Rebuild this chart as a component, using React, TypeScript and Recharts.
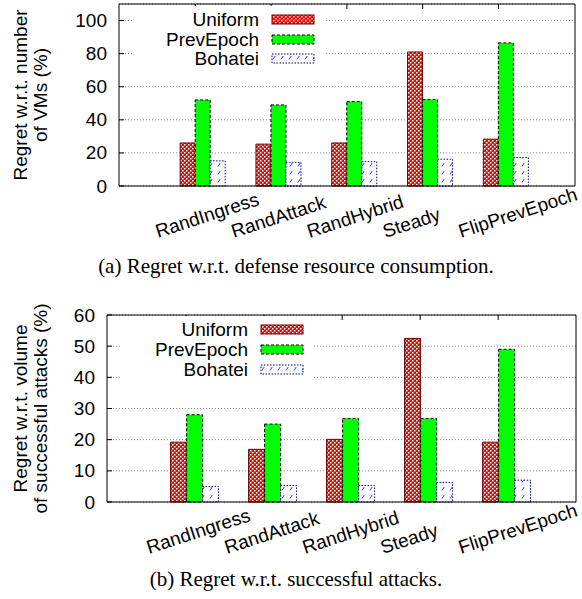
import React from 'react';
import { BarChart, Bar, XAxis, YAxis, CartesianGrid, Legend } from 'recharts';

const categories = ['RandIngress', 'RandAttack', 'RandHybrid', 'Steady', 'FlipPrevEpoch'];
const seriesNames = ['Uniform', 'PrevEpoch', 'Bohatei'];

const vmUniform = [26, 25.3, 26, 81, 28.3];
const vmPrevEpoch = [52, 49, 51, 52.3, 86.5];
const vmBohatei = [15.2, 14.3, 14.7, 16.2, 17.2];

const atkUniform = [19.2, 16.9, 20.1, 52.5, 19.2];
const atkPrevEpoch = [28, 25, 26.8, 26.8, 49];
const atkBohatei = [5, 5.3, 5.3, 6.3, 7];

const vmTicks = [0, 20, 40, 60, 80, 100];
const atkTicks = [0, 10, 20, 30, 40, 50, 60];

const vmTitle = ['Regret w.r.t. number', 'of VMs (%)'];
const atkTitle = ['Regret w.r.t. volume', 'of successful attacks (%)'];

const captionA = '(a) Regret w.r.t. defense resource consumption.';
const captionB = '(b) Regret w.r.t. successful attacks.';

const FONT = '"Liberation Sans", Arial, Helvetica, sans-serif';
const SERIF = '"Liberation Serif", "Times New Roman", Times, serif';
const FS = 19;

const buildData = (u: number[], p: number[], b: number[]) =>
  categories.map((name, i) => ({ name, u: u[i], p: p[i], b: b[i] }));

const vmData = buildData(vmUniform, vmPrevEpoch, vmBohatei);
const atkData = buildData(atkUniform, atkPrevEpoch, atkBohatei);

const seriesKeys = ['u', 'p', 'b'];

const styleFor = (id: string, k: string) => {
  if (k === 'u') return { fill: `url(#${id}-u)`, stroke: '#700000', strokeDasharray: undefined as string | undefined };
  if (k === 'p') return { fill: '#00ff00', stroke: '#000000', strokeDasharray: '3 2' };
  return { fill: `url(#${id}-b)`, stroke: '#000080', strokeDasharray: '1.5 1.5' };
};

const XTick = (props: any) => {
  const { x, y, payload } = props;
  const sx = x - 45;
  const sy = y + 52;
  return (
    <text x={sx} y={sy} transform={`rotate(-18 ${sx} ${sy})`} textAnchor="start" fontSize={FS} fontFamily={FONT} fill="#000">
      {payload.value}
    </text>
  );
};

const TopTick = (props: any) => {
  const { x, y, half } = props;
  return <line x1={x - half} x2={x - half} y1={y} y2={y + 5} stroke="#000" strokeWidth={1} />;
};

const LeftTick = (props: any) => {
  const { x, y, payload } = props;
  return (
    <g>
      <line x1={x} x2={x + 5} y1={y} y2={y} stroke="#000" strokeWidth={1} />
      <text x={x - 12} y={y} textAnchor="end" dominantBaseline="central" fontSize={FS} fontFamily={FONT} fill="#000">
        {payload.value}
      </text>
    </g>
  );
};

const RightTick = (props: any) => {
  const { x, y } = props;
  return <line x1={x - 5} x2={x} y1={y} y2={y} stroke="#000" strokeWidth={1} />;
};

const makeTitle = (lines: string[], xs: number[]) => (props: any) => {
  const vb = props.viewBox || {};
  const cy = (vb.y ?? 0) + (vb.height ?? 0) / 2;
  return (
    <g>
      {lines.map((t, i) => (
        <text
          key={i}
          x={xs[i]}
          y={cy}
          transform={`rotate(-90 ${xs[i]} ${cy})`}
          textAnchor="middle"
          dominantBaseline="central"
          fontSize={FS}
          fontFamily={FONT}
          fill="#000"
        >
          {t}
        </text>
      ))}
    </g>
  );
};

type LegendBox = {
  left: number;
  top: number;
  width: number;
  height: number;
  textRight: number;
  sampleLeft: number;
  rows: number[];
};

const makeLegend = (id: string, box: LegendBox) => () => (
  <div style={{ position: 'relative', width: box.width, height: box.height, background: '#fff' }}>
    {seriesNames.map((n, i) => {
      const st = styleFor(id, seriesKeys[i]);
      return (
        <React.Fragment key={n}>
          <div
            style={{
              position: 'absolute',
              left: 0,
              width: box.textRight,
              top: box.rows[i] - 11,
              height: 22,
              lineHeight: '22px',
              textAlign: 'right',
              fontFamily: FONT,
              fontSize: FS,
              color: '#000',
              whiteSpace: 'nowrap',
            }}
          >
            {n}
          </div>
          <svg
            width={44}
            height={12}
            style={{ position: 'absolute', left: box.sampleLeft - 1, top: box.rows[i] - 6 }}
          >
            <rect x={1} y={1} width={42} height={9} fill={st.fill} stroke={st.stroke} strokeDasharray={st.strokeDasharray} strokeWidth={1} />
          </svg>
        </React.Fragment>
      );
    })}
  </div>
);

type PanelProps = {
  id: string;
  top: number;
  height: number;
  data: any[];
  ticks: number[];
  yMax: number;
  title: string[];
  titleX: number[];
  leftW: number;
  rightW: number;
  topH: number;
  xAxisH: number;
  padL: number;
  padR: number;
  tickHalf: number;
  legend: LegendBox;
};

const Panel = (p: PanelProps) => (
  <div style={{ position: 'absolute', left: 0, top: p.top, width: 582, height: p.height }}>
    <BarChart
      width={582}
      height={p.height}
      data={p.data}
      margin={{ top: 0, right: 0, bottom: 0, left: 0 }}
      barCategoryGap="20%"
      barGap={0}
    >
      <defs>
        <pattern id={`${p.id}-u`} width="4" height="4" patternUnits="userSpaceOnUse">
          <rect width="4" height="4" fill="#ff0000" />
          <rect x="0" y="0" width="1.5" height="1.5" fill="#ffffff" />
          <rect x="2" y="2" width="1.5" height="1.5" fill="#ffffff" />
        </pattern>
        <pattern id={`${p.id}-b`} width="8" height="8" patternUnits="userSpaceOnUse">
          <rect width="8" height="8" fill="#ffffff" />
          <line x1="2" y1="6.5" x2="4.2" y2="3" stroke="#2020ff" strokeWidth="0.9" />
        </pattern>
      </defs>
      <CartesianGrid vertical={false} stroke="#8a8a8a" strokeDasharray="1 2" />
      <XAxis
        dataKey="name"
        height={p.xAxisH}
        padding={{ left: p.padL, right: p.padR }}
        tickSize={0}
        tickMargin={0}
        tickLine={false}
        interval={0}
        axisLine={{ stroke: '#000', strokeWidth: 1 }}
        tick={<XTick />}
      />
      <XAxis
        xAxisId="t"
        orientation="top"
        dataKey="name"
        height={p.topH}
        padding={{ left: p.padL, right: p.padR }}
        tickSize={0}
        tickMargin={0}
        tickLine={false}
        interval={0}
        axisLine={{ stroke: '#000', strokeWidth: 1 }}
        tick={<TopTick half={p.tickHalf} />}
      />
      <YAxis
        width={p.leftW}
        type="number"
        domain={[0, p.yMax]}
        ticks={p.ticks}
        interval={0}
        tickSize={0}
        tickMargin={0}
        tickLine={false}
        axisLine={{ stroke: '#000', strokeWidth: 1 }}
        tick={<LeftTick />}
        label={{ content: makeTitle(p.title, p.titleX) }}
      />
      <YAxis
        yAxisId="r"
        orientation="right"
        width={p.rightW}
        type="number"
        domain={[0, p.yMax]}
        ticks={p.ticks}
        interval={0}
        tickSize={0}
        tickMargin={0}
        tickLine={false}
        axisLine={{ stroke: '#000', strokeWidth: 1 }}
        tick={<RightTick />}
      />
      <Legend
        layout="horizontal"
        verticalAlign="middle"
        align="center"
        content={makeLegend(p.id, p.legend)}
        wrapperStyle={{
          position: 'absolute',
          left: p.legend.left,
          top: p.legend.top,
          width: p.legend.width,
          height: p.legend.height,
          margin: 0,
          padding: 0,
        }}
      />
      {seriesKeys.map((k, i) => {
        const st = styleFor(p.id, k);
        return (
          <Bar
            key={k}
            dataKey={k}
            name={seriesNames[i]}
            fill={st.fill}
            stroke={st.stroke}
            strokeDasharray={st.strokeDasharray}
            strokeWidth={1}
            isAnimationActive={false}
          />
        );
      })}
    </BarChart>
  </div>
);

const Caption = ({ text, baseline }: { text: string; baseline: number }) => (
  <div
    style={{
      position: 'absolute',
      left: 0,
      width: 592,
      top: baseline - 17.6,
      height: 21,
      lineHeight: '21px',
      textAlign: 'center',
      fontFamily: SERIF,
      fontSize: 21,
      color: '#000',
      whiteSpace: 'nowrap',
    }}
  >
    {text}
  </div>
);

export default function App() {
  return (
    <div style={{ position: 'absolute', left: 0, top: 0, width: 582, height: 599, background: '#fff', overflow: 'hidden' }}>
      <Panel
        id="A"
        top={0}
        height={290}
        data={vmData}
        ticks={vmTicks}
        yMax={110}
        title={vmTitle}
        titleX={[20, 40.5]}
        leftW={119}
        rightW={7}
        topH={4}
        xAxisH={104}
        padL={46}
        padR={31}
        tickHalf={7.6}
        legend={{ left: 132, top: 6, width: 193, height: 62, textRight: 127, sampleLeft: 140, rows: [14, 33.5, 53] }}
      />
      <Panel
        id="B"
        top={300}
        height={299}
        data={atkData}
        ticks={atkTicks}
        yMax={60}
        title={atkTitle}
        titleX={[20, 40.5]}
        leftW={107}
        rightW={6}
        topH={15}
        xAxisH={97}
        padL={48}
        padR={31}
        tickHalf={7.8}
        legend={{ left: 120, top: 16, width: 193, height: 68, textRight: 128, sampleLeft: 141, rows: [14, 34, 54] }}
      />
      <Caption text={captionA} baseline={274} />
      <Caption text={captionB} baseline={587} />
    </div>
  );
}
